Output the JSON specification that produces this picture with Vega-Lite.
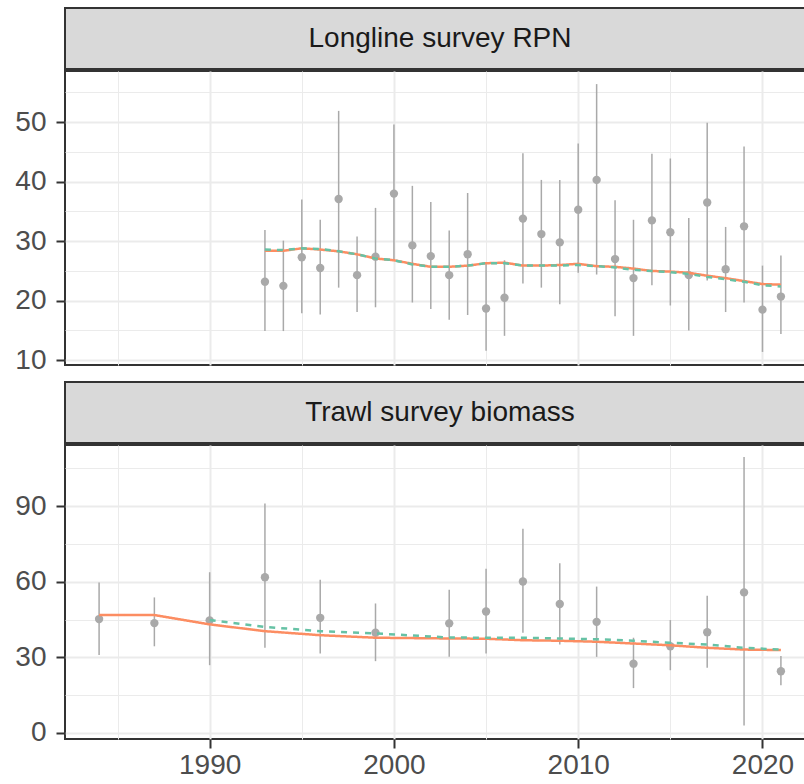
{
  "$schema": "https://vega.github.io/schema/vega-lite/v6.json",
  "background": "white",
  "padding": {"left": 13, "top": 7, "right": 0, "bottom": 0},
  "config": {
    "font": "Liberation Sans",
    "axis": {
      "labelFont": "Liberation Sans",
      "labelFontSize": 28,
      "labelColor": "#4D4D4D",
      "tickColor": "#333333",
      "tickWidth": 2,
      "tickSize": 9,
      "labelPadding": 10,
      "domain": false,
      "gridColor": "#EBEBEB",
      "title": null
    }
  },
  "datasets": {
    "ll_obs": [
      {"year": 1993, "value": 23.2, "lower": 14.9, "upper": 31.9},
      {"year": 1994, "value": 22.5, "lower": 14.9, "upper": 30.1},
      {"year": 1995, "value": 27.3, "lower": 17.9, "upper": 37.0},
      {"year": 1996, "value": 25.5, "lower": 17.7, "upper": 33.6},
      {"year": 1997, "value": 37.1, "lower": 22.2, "upper": 51.9},
      {"year": 1998, "value": 24.3, "lower": 18.1, "upper": 30.8},
      {"year": 1999, "value": 27.4, "lower": 18.9, "upper": 35.6},
      {"year": 2000, "value": 38.0, "lower": 26.8, "upper": 49.6},
      {"year": 2001, "value": 29.3, "lower": 19.7, "upper": 39.3},
      {"year": 2002, "value": 27.5, "lower": 18.6, "upper": 36.6},
      {"year": 2003, "value": 24.3, "lower": 16.8, "upper": 31.8},
      {"year": 2004, "value": 27.8, "lower": 17.6, "upper": 38.1},
      {"year": 2005, "value": 18.7, "lower": 11.6, "upper": 26.3},
      {"year": 2006, "value": 20.5, "lower": 14.1, "upper": 26.8},
      {"year": 2007, "value": 33.8, "lower": 22.9, "upper": 44.8},
      {"year": 2008, "value": 31.2, "lower": 22.2, "upper": 40.3},
      {"year": 2009, "value": 29.8, "lower": 19.4, "upper": 40.3},
      {"year": 2010, "value": 35.3, "lower": 24.7, "upper": 46.4},
      {"year": 2011, "value": 40.3, "lower": 24.4, "upper": 56.4},
      {"year": 2012, "value": 27.0, "lower": 17.4, "upper": 36.9},
      {"year": 2013, "value": 23.8, "lower": 14.1, "upper": 33.6},
      {"year": 2014, "value": 33.5, "lower": 22.6, "upper": 44.7},
      {"year": 2015, "value": 31.5, "lower": 19.2, "upper": 43.9},
      {"year": 2016, "value": 24.3, "lower": 15.0, "upper": 33.9},
      {"year": 2017, "value": 36.5, "lower": 23.4, "upper": 49.9},
      {"year": 2018, "value": 25.3, "lower": 18.1, "upper": 32.4},
      {"year": 2019, "value": 32.5, "lower": 19.7, "upper": 45.9},
      {"year": 2020, "value": 18.5, "lower": 11.4, "upper": 25.9},
      {"year": 2021, "value": 20.7, "lower": 14.4, "upper": 27.6}
    ],
    "ll_fit": [
      {"year": 1993, "model": "m1", "value": 28.4}, {"year": 1994, "model": "m1", "value": 28.4},
      {"year": 1995, "model": "m1", "value": 28.8}, {"year": 1996, "model": "m1", "value": 28.6},
      {"year": 1997, "model": "m1", "value": 28.3}, {"year": 1998, "model": "m1", "value": 27.8},
      {"year": 1999, "model": "m1", "value": 27.1}, {"year": 2000, "model": "m1", "value": 26.8},
      {"year": 2001, "model": "m1", "value": 26.2}, {"year": 2002, "model": "m1", "value": 25.7},
      {"year": 2003, "model": "m1", "value": 25.7}, {"year": 2004, "model": "m1", "value": 25.9},
      {"year": 2005, "model": "m1", "value": 26.3}, {"year": 2006, "model": "m1", "value": 26.4},
      {"year": 2007, "model": "m1", "value": 25.9}, {"year": 2008, "model": "m1", "value": 25.9},
      {"year": 2009, "model": "m1", "value": 26.0}, {"year": 2010, "model": "m1", "value": 26.2},
      {"year": 2011, "model": "m1", "value": 25.8}, {"year": 2012, "model": "m1", "value": 25.7},
      {"year": 2013, "model": "m1", "value": 25.4}, {"year": 2014, "model": "m1", "value": 25.0},
      {"year": 2015, "model": "m1", "value": 24.9}, {"year": 2016, "model": "m1", "value": 24.7},
      {"year": 2017, "model": "m1", "value": 24.2}, {"year": 2018, "model": "m1", "value": 23.8},
      {"year": 2019, "model": "m1", "value": 23.3}, {"year": 2020, "model": "m1", "value": 22.8},
      {"year": 2021, "model": "m1", "value": 22.7},
      {"year": 1993, "model": "m2", "value": 28.6}, {"year": 1994, "model": "m2", "value": 28.5},
      {"year": 1995, "model": "m2", "value": 28.8}, {"year": 1996, "model": "m2", "value": 28.7},
      {"year": 1997, "model": "m2", "value": 28.3}, {"year": 1998, "model": "m2", "value": 27.8},
      {"year": 1999, "model": "m2", "value": 27.1}, {"year": 2000, "model": "m2", "value": 26.8},
      {"year": 2001, "model": "m2", "value": 26.1}, {"year": 2002, "model": "m2", "value": 25.7},
      {"year": 2003, "model": "m2", "value": 25.7}, {"year": 2004, "model": "m2", "value": 25.9},
      {"year": 2005, "model": "m2", "value": 26.3}, {"year": 2006, "model": "m2", "value": 26.3},
      {"year": 2007, "model": "m2", "value": 25.9}, {"year": 2008, "model": "m2", "value": 25.9},
      {"year": 2009, "model": "m2", "value": 25.9}, {"year": 2010, "model": "m2", "value": 26.0},
      {"year": 2011, "model": "m2", "value": 25.8}, {"year": 2012, "model": "m2", "value": 25.6},
      {"year": 2013, "model": "m2", "value": 25.2}, {"year": 2014, "model": "m2", "value": 25.0},
      {"year": 2015, "model": "m2", "value": 24.8}, {"year": 2016, "model": "m2", "value": 24.5},
      {"year": 2017, "model": "m2", "value": 24.0}, {"year": 2018, "model": "m2", "value": 23.6},
      {"year": 2019, "model": "m2", "value": 23.2}, {"year": 2020, "model": "m2", "value": 22.6},
      {"year": 2021, "model": "m2", "value": 22.4}
    ],
    "tw_obs": [
      {"year": 1984, "value": 45.2, "lower": 30.9, "upper": 59.7},
      {"year": 1987, "value": 43.6, "lower": 34.4, "upper": 53.8},
      {"year": 1990, "value": 44.7, "lower": 26.9, "upper": 63.8},
      {"year": 1993, "value": 61.8, "lower": 33.8, "upper": 91.1},
      {"year": 1996, "value": 45.7, "lower": 31.5, "upper": 60.8},
      {"year": 1999, "value": 39.8, "lower": 28.5, "upper": 51.4},
      {"year": 2003, "value": 43.5, "lower": 30.2, "upper": 56.8},
      {"year": 2005, "value": 48.2, "lower": 31.5, "upper": 65.2},
      {"year": 2007, "value": 60.1, "lower": 39.8, "upper": 81.1},
      {"year": 2009, "value": 51.2, "lower": 35.1, "upper": 67.4},
      {"year": 2011, "value": 44.1, "lower": 30.2, "upper": 58.1},
      {"year": 2013, "value": 27.5, "lower": 17.8, "upper": 37.8},
      {"year": 2015, "value": 34.4, "lower": 24.9, "upper": 44.8},
      {"year": 2017, "value": 40.0, "lower": 25.9, "upper": 54.5},
      {"year": 2019, "value": 55.8, "lower": 3.0, "upper": 109.5},
      {"year": 2021, "value": 24.5, "lower": 18.9, "upper": 30.5}
    ],
    "tw_fit": [
      {"year": 1984, "model": "m1", "value": 46.8}, {"year": 1987, "model": "m1", "value": 46.8},
      {"year": 1990, "model": "m1", "value": 43.1}, {"year": 1993, "model": "m1", "value": 40.4},
      {"year": 1996, "model": "m1", "value": 38.8}, {"year": 1999, "model": "m1", "value": 37.8},
      {"year": 2003, "model": "m1", "value": 37.5}, {"year": 2005, "model": "m1", "value": 37.4},
      {"year": 2007, "model": "m1", "value": 36.8}, {"year": 2009, "model": "m1", "value": 36.6},
      {"year": 2011, "model": "m1", "value": 36.2}, {"year": 2013, "model": "m1", "value": 35.5},
      {"year": 2015, "model": "m1", "value": 34.8}, {"year": 2017, "model": "m1", "value": 33.8},
      {"year": 2019, "model": "m1", "value": 33.1}, {"year": 2021, "model": "m1", "value": 32.9},
      {"year": 1990, "model": "m2", "value": 44.8}, {"year": 1993, "model": "m2", "value": 42.1},
      {"year": 1996, "model": "m2", "value": 40.4}, {"year": 1999, "model": "m2", "value": 39.5},
      {"year": 2003, "model": "m2", "value": 37.9}, {"year": 2005, "model": "m2", "value": 37.8},
      {"year": 2007, "model": "m2", "value": 37.8}, {"year": 2009, "model": "m2", "value": 37.5},
      {"year": 2011, "model": "m2", "value": 37.2}, {"year": 2013, "model": "m2", "value": 36.6},
      {"year": 2015, "model": "m2", "value": 35.8}, {"year": 2017, "model": "m2", "value": 35.1},
      {"year": 2019, "model": "m2", "value": 33.8}, {"year": 2021, "model": "m2", "value": 33.1}
    ],
    "strip1": [{"label": "Longline survey RPN"}],
    "strip2": [{"label": "Trawl survey biomass"}]
  },
  "vconcat": [
    {
      "vconcat": [
        {
          "width": 750, "height": 61,
          "data": {"name": "strip1"},
          "view": {"fill": "#D9D9D9", "stroke": "#333333", "strokeWidth": 2},
          "mark": {"type": "text", "font": "Liberation Sans", "fontSize": 28, "color": "#1A1A1A"},
          "encoding": {"text": {"field": "label"}}
        },
        {
          "width": 750, "height": 294,
          "view": {"stroke": "#333333", "strokeWidth": 2},
          "encoding": {
            "x": {"field": "year", "type": "quantitative",
                  "scale": {"domain": [1982.15, 2022.85], "nice": false, "zero": false},
                  "axis": {"values": [1985, 1990, 1995, 2000, 2005, 2010, 2015, 2020],
                           "labels": false, "ticks": false,
                           "gridWidth": {"condition": {"test": "datum.value % 10 === 0", "value": 2}, "value": 1}}},
            "y": {"field": "value", "type": "quantitative",
                  "scale": {"domain": [9.2, 58.6], "nice": false, "zero": false},
                  "axis": {"values": [10, 15, 20, 25, 30, 35, 40, 45, 50, 55],
                           "labelExpr": "datum.value % 10 === 0 ? datum.label : ''",
                           "tickOpacity": {"condition": {"test": "datum.value % 10 === 0", "value": 1}, "value": 0},
                           "gridWidth": {"condition": {"test": "datum.value % 10 === 0", "value": 2}, "value": 1}}}
          },
          "layer": [
            {
              "data": {"name": "ll_obs"},
              "mark": {"type": "rule", "color": "#A9A9A9", "strokeWidth": 1.5},
              "encoding": {"y": {"field": "lower", "type": "quantitative"}, "y2": {"field": "upper"}}
            },
            {
              "data": {"name": "ll_obs"},
              "mark": {"type": "point", "filled": true, "color": "#A9A9A9", "opacity": 1, "size": 70}
            },
            {
              "data": {"name": "ll_fit"},
              "mark": {"type": "line", "strokeWidth": 2.5},
              "encoding": {
                "color": {"field": "model", "type": "nominal", "scale": {"domain": ["m1", "m2"], "range": ["#FC8D62", "#66C2A5"]}, "legend": null},
                "strokeDash": {"field": "model", "type": "nominal", "scale": {"domain": ["m1", "m2"], "range": [[1, 0], [6, 6]]}, "legend": null}
              }
            }
          ]
        }
      ],
      "spacing": 0
    },
    {
      "vconcat": [
        {
          "width": 750, "height": 61,
          "data": {"name": "strip2"},
          "view": {"fill": "#D9D9D9", "stroke": "#333333", "strokeWidth": 2},
          "mark": {"type": "text", "font": "Liberation Sans", "fontSize": 28, "color": "#1A1A1A"},
          "encoding": {"text": {"field": "label"}}
        },
        {
          "width": 750, "height": 294,
          "view": {"stroke": "#333333", "strokeWidth": 2},
          "encoding": {
            "x": {"field": "year", "type": "quantitative",
                  "scale": {"domain": [1982.15, 2022.85], "nice": false, "zero": false},
                  "axis": {"values": [1985, 1990, 1995, 2000, 2005, 2010, 2015, 2020], "format": "d",
                           "labelPadding": 3,
                           "labelExpr": "datum.value % 10 === 0 ? datum.label : ''",
                           "tickOpacity": {"condition": {"test": "datum.value % 10 === 0", "value": 1}, "value": 0},
                           "gridWidth": {"condition": {"test": "datum.value % 10 === 0", "value": 2}, "value": 1}}},
            "y": {"field": "value", "type": "quantitative",
                  "scale": {"domain": [-2.4, 114.3], "nice": false, "zero": false},
                  "axis": {"values": [0, 15, 30, 45, 60, 75, 90, 105],
                           "labelExpr": "datum.value % 30 === 0 ? datum.label : ''",
                           "tickOpacity": {"condition": {"test": "datum.value % 30 === 0", "value": 1}, "value": 0},
                           "gridWidth": {"condition": {"test": "datum.value % 30 === 0", "value": 2}, "value": 1}}}
          },
          "layer": [
            {
              "data": {"name": "tw_obs"},
              "mark": {"type": "rule", "color": "#A9A9A9", "strokeWidth": 1.5},
              "encoding": {"y": {"field": "lower", "type": "quantitative"}, "y2": {"field": "upper"}}
            },
            {
              "data": {"name": "tw_obs"},
              "mark": {"type": "point", "filled": true, "color": "#A9A9A9", "opacity": 1, "size": 70}
            },
            {
              "data": {"name": "tw_fit"},
              "mark": {"type": "line", "strokeWidth": 2.5},
              "encoding": {
                "color": {"field": "model", "type": "nominal", "scale": {"domain": ["m1", "m2"], "range": ["#FC8D62", "#66C2A5"]}, "legend": null},
                "strokeDash": {"field": "model", "type": "nominal", "scale": {"domain": ["m1", "m2"], "range": [[1, 0], [6, 6]]}, "legend": null}
              }
            }
          ]
        }
      ],
      "spacing": 0
    }
  ],
  "spacing": 5,
  "resolve": {"scale": {"x": "independent", "y": "independent"}}
}
